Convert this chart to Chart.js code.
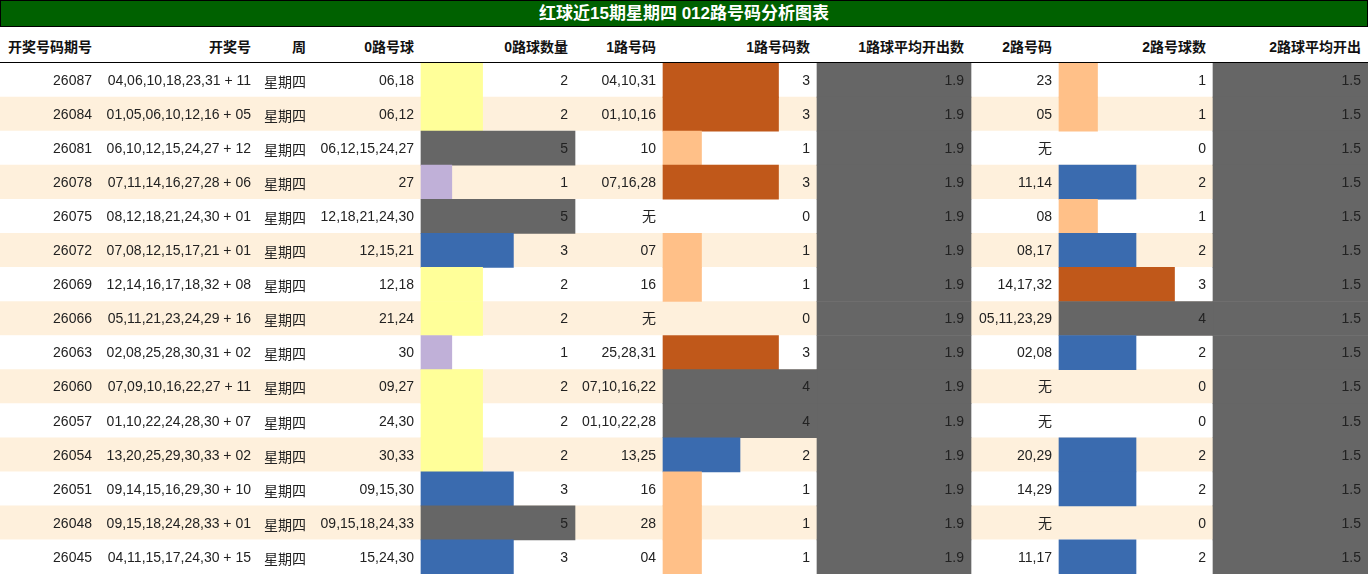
<!DOCTYPE html>
<html><head><meta charset="utf-8">
<script src="https://cdn.jsdelivr.net/npm/chart.js@4/dist/chart.umd.min.js"></script>
<style>
body{margin:0;width:1368px;height:574px;overflow:hidden;background:#fff;font-family:"Liberation Sans","Noto Sans CJK SC",sans-serif;}
#title{position:absolute;left:0;top:0;width:1366px;height:25px;background:#006100;border:1px solid #000;color:#fff;font-weight:bold;font-size:17px;text-align:center;line-height:25px;}
#hdr{position:absolute;left:0;top:27px;width:1368px;height:35px;border-bottom:1px solid #000;font-weight:bold;font-size:14px;color:#111;}
#hdr span{position:absolute;top:9px;white-space:nowrap;}
#wrap{position:absolute;left:0;top:63px;width:1368px;height:511px;}
</style></head><body>
<div id="title">红球近15期星期四 012路号码分析图表</div>
<div id="hdr"></div>
<div id="wrap"><canvas id="c"></canvas></div>
<script>
const periods=["26087","26084","26081","26078","26075","26072","26069","26066","26063","26060","26057","26054","26051","26048","26045"];
const draws=["04,06,10,18,23,31 + 11","01,05,06,10,12,16 + 05","06,10,12,15,24,27 + 12","07,11,14,16,27,28 + 06","08,12,18,21,24,30 + 01","07,08,12,15,17,21 + 01","12,14,16,17,18,32 + 08","05,11,21,23,24,29 + 16","02,08,25,28,30,31 + 02","07,09,10,16,22,27 + 11","01,10,22,24,28,30 + 07","13,20,25,29,30,33 + 02","09,14,15,16,29,30 + 10","09,15,18,24,28,33 + 01","04,11,15,17,24,30 + 15"];
const weekday="星期四";
const zeroBalls=["06,18","06,12","06,12,15,24,27","27","12,18,21,24,30","12,15,21","12,18","21,24","30","09,27","24,30","30,33","09,15,30","09,15,18,24,33","15,24,30"];
const zeroCount=[2,2,5,1,5,3,2,2,1,2,2,2,3,5,3];
const oneBalls=["04,10,31","01,10,16","10","07,16,28","无","07","16","无","25,28,31","07,10,16,22","01,10,22,28","13,25","16","28","04"];
const oneCount=[3,3,1,3,0,1,1,0,3,4,4,2,1,1,1];
const oneAvg=1.9;
const twoBalls=["23","05","无","11,14","08","08,17","14,17,32","05,11,23,29","02,08","无","无","20,29","14,29","无","11,17"];
const twoCount=[1,1,0,2,1,2,3,4,2,0,0,2,2,0,2];
const twoAvg=1.5;
const headers=["开奖号码期号","开奖号","周","0路号球","0路球数量","1路号码","1路号码数","1路球平均开出数","2路号码","2路号球数","2路球平均开出"];

// layout
const colRight=[92,251,306,414,568,656,810,964,1052,1206,1361];
const hdr=document.getElementById('hdr');
headers.forEach((h,i)=>{const s=document.createElement('span');s.textContent=h;if(i===0){s.style.left='8px';}else{s.style.right=(1368-colRight[i])+'px';}hdr.appendChild(s);});

const GRAY='#666666';
const zeroColor={1:'#C0B0D8',2:'#FFFF99',3:'#3A6BAF',4:'#3A6BAF',5:GRAY};
const cntColor={1:'#FFC088',2:'#3A6BAF',3:'#C0581A',4:GRAY};
const Z0=421,ZW=154,O0=663,OW=154,A0=817,AW=154,T0=1059,TW=154,B0=1213,BW=155;
const rows=periods.map((p,i)=>i);

function countBars(counts,start,width,max,cmap){
  return {data:counts.map(c=>[start,start+width*c/max]),backgroundColor:counts.map(c=>c?cmap[c]:'rgba(0,0,0,0)'),grouped:false,order:1,barPercentage:1,categoryPercentage:1,borderWidth:0};
}
const datasets=[
 {data:rows.map(()=>[0,1368]),backgroundColor:rows.map(i=>i%2?'#FEF0DC':'#FFFFFF'),grouped:false,order:10,barPercentage:1,categoryPercentage:1},
 countBars(zeroCount,Z0,ZW,5,zeroColor),
 countBars(oneCount,O0,OW,4,cntColor),
 countBars(twoCount,T0,TW,4,cntColor),
 {data:rows.map(()=>[A0,A0+AW*oneAvg/oneAvg]),backgroundColor:GRAY,grouped:false,order:1,barPercentage:1,categoryPercentage:1},
 {data:rows.map(()=>[B0,B0+BW*twoAvg/twoAvg]),backgroundColor:GRAY,grouped:false,order:1,barPercentage:1,categoryPercentage:1}
];
const textPlugin={id:'txt',afterDatasetsDraw(chart){
  const ctx=chart.ctx,y=chart.scales.y;ctx.save();
  ctx.font='14px "Liberation Sans","Noto Sans CJK SC",sans-serif';ctx.fillStyle='#222';ctx.textBaseline='middle';ctx.textAlign='right';
  rows.forEach(i=>{
    const py=y.getPixelForValue(i)+1;
    const cells=[periods[i],draws[i],null,zeroBalls[i],String(zeroCount[i]),oneBalls[i],String(oneCount[i]),oneAvg.toFixed(1),twoBalls[i],String(twoCount[i]),twoAvg.toFixed(1)];
    cells.forEach((t,k)=>{if(t!==null)ctx.fillText(t,colRight[k],py);});
    ctx.textAlign='center';ctx.fillText(weekday,285,py+2);ctx.textAlign='right';
  });
  ctx.restore();
}};
new Chart(document.getElementById('c'),{type:'bar',data:{labels:periods,datasets},
 options:{indexAxis:'y',responsive:true,maintainAspectRatio:false,animation:false,layout:{padding:0},
  plugins:{legend:{display:false},tooltip:{enabled:false}},
  scales:{x:{type:'linear',min:0,max:1368,display:false},y:{type:'category',display:false,offset:true,grid:{display:false}}}},
 plugins:[textPlugin]});
</script></body></html>
